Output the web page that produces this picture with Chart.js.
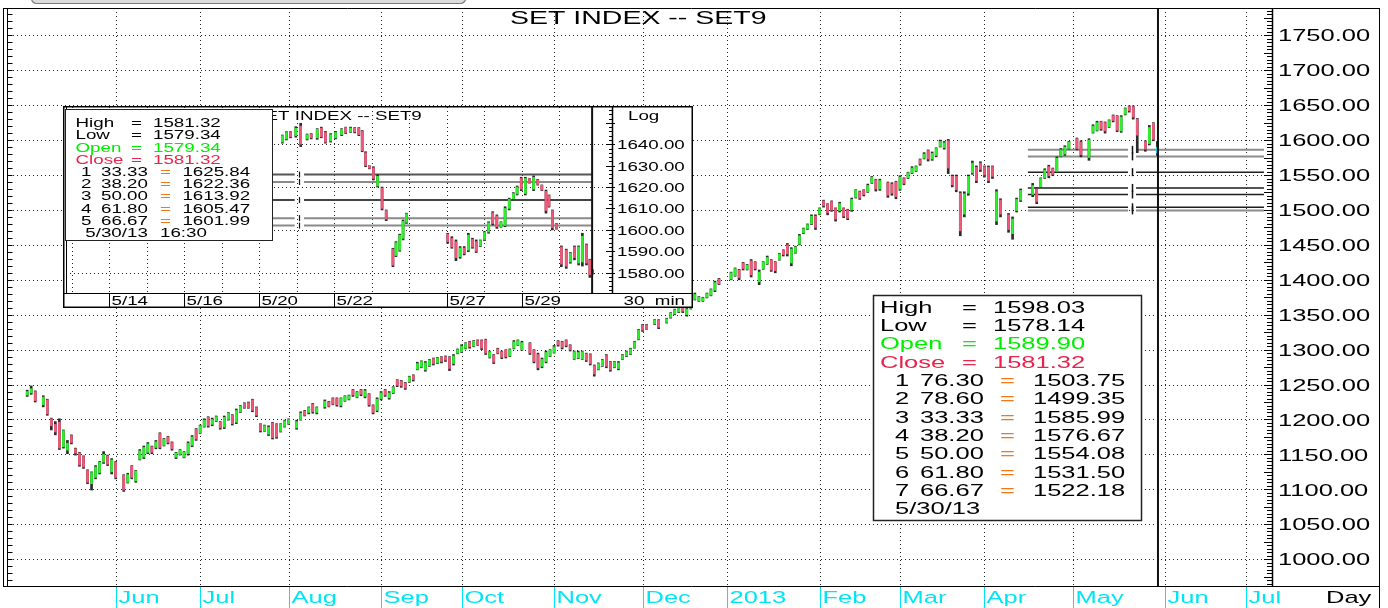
<!DOCTYPE html>
<html><head><meta charset="utf-8">
<script src="https://cdn.jsdelivr.net/npm/chart.js@4.4.1/dist/chart.umd.min.js"></script>
<style>
html,body{margin:0;padding:0;background:#fff;overflow:hidden;}
#wrap{position:relative;width:1388px;height:608px;overflow:hidden;background:#fff;}
#main{position:absolute;left:0;top:0;}
#inset{position:absolute;left:63px;top:106px;}
</style></head><body>
<div id="wrap"><canvas id="main" width="1388" height="608"></canvas><canvas id="inset" width="630" height="202"></canvas></div>
<script>
// ---------------- MAIN DAILY CHART DATA (weekday index from 2 May 2012) ----------------
const dayIdx = [0,1,2,4,5,6,7,8,9,10,11,12,13,14,15,16,17,18,19,20,21,22,
24,25,26,27,28,29,30,31,32,33,34,35,36,37,38,39,40,41,42,43,44,45,46,47,48,49,50,51,52,53,54,55,56,57,58,59,60,61,62,63,64,65,
67,68,69,70,71,72,
74,75,76,77,78,79,80,81,82,83,84,85,86,87,88,89,90,91,92,93,94,95,96,97,98,99,100,101,102,103,104,105,106,107,108,109,110,111,112,113,114,115,116,117,118,119,120,121,122,123,
125,126,127,128,129,130,131,132,133,134,135,136,137,138,139,140,141,142,143,144,145,146,147,148,149,150,151,152,153,154,
156,157,
159,160,161,162,163,164,165,166,167,168,169,170,171,172,
175,176,177,178,179,180,181,182,183,184,185,186,187,188,189,190,191,192,193,194,195,196,197,198,199,200,201,202,203,204,205,206,207,208,209,210,211,212,
214,215,216,217,218,219,220,221,222,223,224,225,226,227,228,229,230,231,232,233,234,235,236,237,238,239,240,241,242,
244,245,246,247,
250,251,252,253,254,255,256,257,258,259,
261,262,
264,265,266,267,268,269,270,271,272,273,274,275,276,
278,279,280,281];
const opens = [1235,1238,1240,1221,1228,1201,1193,1196,1161,1156,1177,1158,1152,1147,1127,1108,1117,1124,1139,1148,1125,1139,
1120,1110,1133,1112,1143,1146,1153,1161,1160,1180,1163,1175,1167,1146,1150,1146,1151,1163,1186,1181,1190,1203,1193,1198,1196,1189,1200,1206,1196,1211,1223,1224,1228,1217,1193,1184,1179,1195,1193,1183,1190,1194,
1188,1200,1212,1210,1222,1210,
1218,1225,1230,1230,1220,1227,1229,1242,1232,1242,1233,1236,1220,1213,1230,1242,1231,1238,1256,1255,1252,1254,1263,1272,1275,1271,1277,1287,1281,1289,1290,1289,1280,1295,1297,1302,1311,1305,1313,1313,1314,1289,1292,1301,1297,1299,1291,1302,1307,1300,
1309,1299,1293,1276,1283,1291,1296,1312,1311,1313,1306,1287,1288,1287,1294,1293,1277,1272,1277,1292,1282,1275,1273,1287,1291,1294,1303,1315,1335,1335,
1337,1342,
1339,1346,1351,1354,1360,1350,1359,1372,1370,1370,1375,1378,1385,1401,
1401,1406,1414,1424,1415,1427,1425,1397,1416,1423,1428,1425,1429,1442,1450,1424,1439,1451,1467,1473,1480,1491,1494,1513,1508,1512,1502,1499,1502,1500,1500,1518,1526,1528,1526,1539,1543,1530,
1539,1537,1540,1530,1545,1546,1553,1556,1572,1574,1585,1573,1578,1591,1589,1599,1548,1548,1524,1494,1524,1553,1561,1567,1562,1561,1562,1484,1514,
1493,1466,1499,1514,
1522,1530,1533,1546,1562,1559,1555,1577,1580,1588,
1602,1597,
1575,1611,1614,1626,1625,1619,1635,1634,1613,1637,1648,1648,1630,
1598,1595,1624,1589.90];
const highs = [1242,1248,1241,1234,1229,1202,1197,1201,1185,1170,1178,1159,1153,1148,1128,1125,1134,1140,1154,1149,1144,1140,
1121,1123,1134,1127,1157,1162,1167,1162,1170,1181,1173,1176,1168,1153,1157,1154,1168,1177,1187,1192,1201,1204,1202,1205,1197,1205,1210,1207,1215,1220,1224,1225,1229,1218,1194,1192,1191,1196,1194,1194,1199,1201,
1199,1211,1213,1218,1223,1218,
1228,1226,1231,1231,1231,1234,1235,1243,1240,1243,1243,1237,1221,1231,1240,1243,1240,1247,1257,1256,1253,1262,1264,1282,1284,1283,1286,1288,1289,1290,1291,1290,1293,1301,1307,1310,1312,1313,1314,1314,1315,1298,1293,1302,1298,1300,1301,1313,1314,1312,
1310,1300,1295,1288,1298,1300,1306,1313,1312,1314,1307,1298,1298,1298,1295,1294,1278,1281,1286,1293,1283,1283,1283,1293,1298,1302,1312,1329,1336,1336,
1343,1343,
1345,1353,1358,1360,1361,1360,1368,1381,1376,1375,1381,1387,1398,1402,
1411,1417,1415,1425,1422,1429,1426,1414,1426,1434,1429,1426,1438,1443,1452,1446,1448,1465,1474,1480,1493,1493,1503,1514,1509,1513,1503,1511,1503,1501,1517,1529,1527,1529,1537,1548,1544,1544,
1540,1539,1541,1549,1546,1554,1562,1563,1573,1582,1586,1583,1589,1600,1598,1601,1550,1550,1526,1526,1550,1570,1563,1569,1563,1563,1563,1529,1516,
1495,1490,1517,1530,
1538,1532,1546,1559,1564,1560,1576,1588,1592,1598,
1603,1599,
1602,1622,1627,1627,1626,1629,1636,1635,1635,1646,1649,1649,1631,
1599,1621,1625,1598.03];
const lows = [1233,1236,1225,1218,1206,1185,1178,1157,1159,1151,1165,1149,1133,1130,1108,1099,1115,1122,1137,1134,1122,1115,
1097,1109,1115,1110,1142,1144,1151,1151,1158,1158,1162,1165,1156,1144,1149,1145,1149,1161,1170,1180,1189,1189,1191,1197,1186,1187,1199,1192,1194,1210,1216,1216,1211,1204,1182,1183,1177,1172,1173,1182,1189,1193,
1186,1199,1205,1208,1209,1208,
1216,1218,1221,1219,1218,1226,1228,1233,1231,1234,1231,1219,1208,1211,1228,1233,1229,1237,1247,1246,1243,1253,1255,1271,1274,1269,1276,1278,1280,1281,1283,1270,1278,1294,1296,1301,1302,1304,1306,1300,1293,1288,1280,1294,1287,1288,1290,1301,1306,1299,
1293,1281,1271,1274,1281,1290,1295,1305,1301,1304,1298,1286,1287,1286,1283,1278,1262,1271,1276,1274,1269,1274,1271,1286,1290,1293,1302,1314,1326,1329,
1336,1330,
1338,1345,1350,1353,1353,1348,1358,1371,1369,1369,1374,1377,1383,1393,
1400,1405,1400,1414,1414,1404,1414,1393,1415,1422,1412,1410,1428,1434,1434,1420,1438,1450,1466,1472,1479,1472,1493,1504,1493,1498,1484,1497,1489,1486,1498,1517,1515,1520,1525,1538,1527,1528,
1518,1521,1516,1528,1536,1545,1552,1555,1564,1573,1570,1571,1576,1590,1587,1552,1533,1526,1463,1490,1521,1551,1539,1555,1547,1539,1545,1479,1490,
1468,1458,1497,1512,
1519,1509,1532,1545,1546,1549,1554,1576,1578,1587,
1586,1576,
1571,1610,1613,1614,1610,1618,1626,1612,1611,1636,1640,1630,1582,
1584,1593,1599,1578.14];
const closes = [1240,1244,1227,1232,1208,1191,1182,1159,1184,1166,1167,1152,1135,1132,1110,1124,1132,1139,1150,1136,1142,1117,
1099,1121,1117,1126,1155,1160,1165,1153,1168,1160,1172,1167,1158,1152,1156,1153,1166,1175,1172,1191,1199,1191,1200,1204,1188,1203,1209,1194,1213,1219,1217,1217,1213,1206,1184,1191,1189,1174,1175,1193,1198,1200,
1197,1209,1206,1217,1211,1217,
1226,1219,1222,1221,1230,1233,1234,1235,1239,1236,1241,1221,1210,1229,1238,1235,1238,1246,1249,1248,1245,1261,1257,1280,1283,1281,1285,1280,1288,1283,1285,1273,1291,1300,1305,1309,1304,1312,1307,1302,1295,1297,1282,1295,1289,1290,1300,1311,1313,1310,
1295,1283,1274,1286,1296,1299,1304,1307,1303,1306,1300,1297,1296,1297,1285,1280,1265,1280,1285,1276,1271,1282,1281,1292,1297,1301,1311,1328,1328,1330,
1342,1332,
1344,1352,1357,1359,1355,1358,1367,1379,1375,1374,1380,1386,1396,1394,
1410,1416,1403,1416,1421,1407,1416,1411,1425,1432,1414,1413,1437,1436,1437,1444,1447,1463,1473,1479,1491,1475,1502,1506,1496,1500,1487,1509,1491,1488,1515,1528,1517,1522,1535,1547,1530,1542,
1521,1524,1519,1547,1538,1553,1560,1562,1566,1580,1573,1581,1588,1598,1596,1560,1536,1529,1470,1523,1548,1567,1542,1558,1550,1542,1548,1526,1494,
1472,1487,1515,1528,
1535,1512,1545,1557,1549,1551,1574,1586,1590,1597,
1588,1579,
1600,1620,1625,1616,1613,1628,1628,1614,1633,1645,1642,1633,1607,
1587,1618,1601,1581.32];

const priceTicks = [1000,1050,1100,1150,1200,1250,1300,1350,1400,1450,1500,1550,1600,1650,1700,1750];
const monthLabels = ['Jun','Jul','Aug','Sep','Oct','Nov','Dec','2013','Feb','Mar','Apr','May','Jun','Jul'];
const monthStartIdx = [22,43,65,88,108,131,153,174,197,217,238,260,283,303];

const fibPct    = ['76.30','78.60','33.33','38.20','50.00','61.80','66.67'];
const fibLevels = [1503.75,1499.35,1585.99,1576.67,1554.08,1531.50,1522.18];
const fibColors = ['#1e1e1e','#8c8c8c','#8c8c8c','#8c8c8c','#1e1e1e','#1e1e1e','#1e1e1e'];
const fibSpanIdx = [248.8, 273.7, 275.7, 307.5];
const fibMarkIdx = 274.6;
const cursorIdx = 281.15;
const infoDate = '5/30/13';

// ---------------- INSET 30-MIN CHART DATA (trading-day position from 5/14) ----------------
const insetT = [4.62,4.73,4.84,4.98,5.11,5.28,5.39,5.55,5.66,5.77,5.91,6.04,6.20,6.31,6.44,6.55,6.66,6.75,6.84,6.94,7.05,7.16,7.28,7.39,7.57,7.65,7.75,7.84,7.93,
9.03,9.14,9.25,9.36,9.47,9.58,9.69,9.79,9.90,10.01,10.12,10.23,10.34,10.45,10.56,10.67,10.78,10.88,10.99,11.10,11.21,11.32,11.43,11.54,11.65,11.73,11.82,11.93,12.06,12.19,12.30,12.41,12.52,12.62,12.73,12.82,12.89];
const insetO = [1641,1642.5,1645.5,1644,1648.5,1642.5,1644.8,1643,1647.5,1645.5,1641.5,1643,1644.5,1647.8,1645.8,1647.5,1647.5,1646,1636,1629.8,1629,1620.5,1619.5,1609,1591,1588,1590.5,1596,1603.5,
1598,1596,1594.5,1587.5,1591.5,1590.5,1595.5,1594.5,1592.5,1595.5,1599,1608,1606.5,1601.5,1602,1610,1614.5,1616.8,1624,1617,1624,1619,1623.3,1620.8,1618,1616,1609,1602.8,1592,1590.5,1585,1592,1584.5,1585,1593,1586,1579.34];
const insetH = [1644.3,1645.9,1645.9,1648.2,1649.8,1644.8,1645,1647.3,1648,1646,1645,1646,1647.3,1648,1648,1647.8,1647.8,1646.4,1636.5,1630,1629.5,1625.7,1620,1609.3,1591.4,1594.5,1598,1604.6,1607.8,
1598.4,1596.8,1595.3,1592.2,1592.2,1598.4,1596.1,1595.3,1595.3,1599.2,1603.8,1608.5,1607,1603.8,1610.8,1614.8,1617.4,1620.5,1624.6,1624.6,1624.1,1625.2,1623.6,1621,1618.6,1616.3,1609.3,1603,1592.5,1591,1589.4,1592.5,1592.5,1598.4,1593.4,1586.3,1581.32];
const insetL = [1640.5,1642,1643,1643.3,1638.9,1642,1642.5,1642.3,1643,1640.5,1641,1642.5,1644,1645,1645.5,1645.3,1644,1636.5,1629.5,1628.5,1623.3,1620,1609.3,1604.3,1582.8,1587.5,1590,1595.3,1603,
1593.7,1591.4,1585.6,1586.7,1588.3,1589.8,1591.4,1589.4,1592.2,1595,1598.4,1602.3,1600.7,1601.2,1601.5,1609.3,1614,1616.3,1618.3,1616.3,1621.8,1618.3,1620.9,1618.3,1607.8,1610.6,1600,1600.3,1582.8,1582,1584.4,1586,1583.6,1583.1,1583.6,1577.8,1579.34];
const insetC = [1644,1645.5,1643.5,1647.5,1640,1644.5,1643,1647,1643.5,1641,1644.5,1645.5,1647,1645.5,1647.5,1645.8,1644.5,1637,1630,1628.8,1624,1625,1610,1605,1583.5,1594,1597.5,1604,1607.5,
1594.5,1592,1587,1591.5,1589,1597.5,1592,1590,1595,1598.8,1603.3,1603,1601.5,1603.5,1610,1614.3,1617,1620,1619,1624,1622,1624.5,1621.2,1618.6,1609,1611,1601,1600.6,1584,1583,1589,1587,1592,1597,1584.5,1579,1581.32];
const insetPriceTicks = [1580,1590,1600,1610,1620,1630,1640];
const insetGridTicks = [1580,1600,1620,1640];
const insetDayLabels = ['5/14','5/16','5/20','5/22','5/27','5/29'];
const insetDayPos = [0,2,4,6,9,11];
const insetDayGrid = [-1,0,1,2,3,4,5,6,7,8,9,10,11,12];
const insetFibPct    = ['33.33','38.20','50.00','61.80','66.67'];
const insetFibLevels = [1625.84,1622.36,1613.92,1605.47,1601.99];
const insetFibColors = ['#555555','#8a8a8a','#444444','#8a8a8a','#8a8a8a'];
const insetFibSpan = [-1.3, 4.95, 5.2, 12.9];
const insetFibMark = 5.06;
const insetCursor = 12.88;
const insetTime = '16:30';

// ---------------- STYLE ----------------
const FONT = '"Liberation Sans", Arial, Helvetica, sans-serif';
const STRETCH = 1.5;
const TEXT_DY = 1.5;
const GREEN = '#2cf02c', RED = '#f0587a', CYAN = '#10d8e8', WICK = '#2b2b2b', MAGENTA = '#ff00ff';
const TXT_GREEN = '#00ee00', TXT_RED = '#e8244c', TXT_ORANGE = '#f07818', MONTH_CYAN = '#00e4f4';

function sText(ctx, txt, x, y, size, color, align, stretch) {
  stretch = stretch || STRETCH;
  ctx.save();
  ctx.font = size + 'px ' + FONT;
  ctx.fillStyle = color;
  ctx.textBaseline = 'middle';
  ctx.textAlign = 'left';
  const w = ctx.measureText(txt).width * stretch;
  let x0 = x;
  if (align === 'right') x0 = x - w; else if (align === 'center') x0 = x - w / 2;
  ctx.translate(x0, y + TEXT_DY);
  ctx.scale(stretch, 1);
  ctx.fillText(txt, 0, 0);
  ctx.restore();
}
function line(ctx, x1, y1, x2, y2, color, w, dash) {
  ctx.save();
  ctx.strokeStyle = color; ctx.lineWidth = w || 1;
  ctx.setLineDash(dash || []);
  ctx.beginPath(); ctx.moveTo(x1, y1); ctx.lineTo(x2, y2); ctx.stroke();
  ctx.restore();
}

// ---------------- MAIN CHART ----------------
const n = Math.min(dayIdx.length, opens.length, highs.length, lows.length, closes.length);
const wickData = [], bodyData = [], bodyColors = [];
for (let i = 0; i < n; i++) {
  wickData.push({x: dayIdx[i], y: [lows[i], highs[i]]});
  bodyData.push({x: dayIdx[i], y: [opens[i], closes[i]]});
  bodyColors.push(i === n - 1 ? CYAN : (closes[i] >= opens[i] ? GREEN : RED));
}
const fibDatasets = fibLevels.map((v, k) => ({
  type: 'line',
  data: [{x: fibSpanIdx[0], y: v}, {x: fibSpanIdx[1], y: v}, {x: fibMarkIdx, y: null}, {x: fibSpanIdx[2], y: v}, {x: fibSpanIdx[3], y: v}],
  borderColor: fibColors[k],
  borderWidth: fibColors[k] === '#8c8c8c' ? 2 : 1.5,
  pointRadius: 0, spanGaps: false, tension: 0, order: 5
}));

const mainDecor = {
  id: 'mainDecor',
  beforeDraw(chart) {
    const c = chart.ctx; c.save(); c.fillStyle = '#fff'; c.fillRect(0, 0, chart.width, chart.height); c.restore();
  },
  beforeDatasetsDraw(chart) {
    const {ctx, chartArea: a, scales: {x, y}} = chart;
    priceTicks.forEach(v => {
      const py = Math.round(y.getPixelForValue(v)) + 0.5;
      line(ctx, a.left, py, a.right, py, '#222', 1, [1, 3]);
    });
    monthStartIdx.forEach(i => {
      const px = Math.round(x.getPixelForValue(i)) + 0.5;
      line(ctx, px, a.top, px, a.bottom, '#222', 1, [1, 3]);
    });
  },
  afterDatasetsDraw(chart) {
    const {ctx, chartArea: a, scales: {x, y}} = chart;
    const mx = Math.round(x.getPixelForValue(fibMarkIdx)) + 0.5;
    fibLevels.forEach(v => {
      const py = y.getPixelForValue(v);
      line(ctx, mx, py - 4, mx, py + 4, '#111', 1.5);
    });
    const cx = x.getPixelForValue(cursorIdx);
    line(ctx, cx, a.top, cx, a.bottom, '#111', 2);
    // frame
    line(ctx, 3.5, a.top, 3.5, a.bottom, '#000', 1);
    line(ctx, 7.5, a.top, 7.5, a.bottom, '#000', 1);
    line(ctx, 3, a.top + 0.5, 1380, a.top + 0.5, '#000', 1);
    line(ctx, 3, a.bottom + 0.5, 1380, a.bottom + 0.5, '#000', 1);
    line(ctx, a.right + 0.5, a.top, a.right + 0.5, a.bottom, '#000', 1.5);
    line(ctx, 1379.5, a.top, 1379.5, chart.height, '#000', 1);
    for (let v = Math.ceil(y.min / 5) * 5; v <= y.max; v += 5) {
      const py = Math.round(y.getPixelForValue(v)) + 0.5;
      line(ctx, a.right - (v % 25 === 0 ? 8 : 5), py, a.right, py, '#000', 1);
      if (v % 10 === 0) line(ctx, 7.5, py, 12.5, py, '#000', 1);
    }
    priceTicks.forEach(v => {
      sText(ctx, v.toFixed(2), a.right + 6, y.getPixelForValue(v), 17, '#000', 'left');
    });
    monthStartIdx.forEach((i, k) => {
      const px = Math.round(x.getPixelForValue(i)) + 0.5;
      line(ctx, px, a.bottom + 1, px, chart.height, MONTH_CYAN, 1);
      sText(ctx, monthLabels[k], px + 2, a.bottom + 11, 17, MONTH_CYAN, 'left');
    });
    sText(ctx, 'Day', 1326, a.bottom + 11, 17, '#000', 'left');
    sText(ctx, 'SET INDEX -- SET9', 510, 17, 19, '#000', 'left');
    ctx.save();
    ctx.fillStyle = '#dcdcdc'; ctx.strokeStyle = '#7a7a7a'; ctx.lineWidth = 1.2;
    ctx.beginPath(); ctx.roundRect(31.5, -10, 434, 13.5, 5); ctx.fill(); ctx.stroke();
    ctx.restore();
    // info box
    const bx = 873.5, by = 295.5, bw = 268, bh = 225;
    ctx.save(); ctx.fillStyle = '#fff'; ctx.fillRect(bx, by, bw, bh);
    ctx.strokeStyle = '#222'; ctx.lineWidth = 1.5; ctx.strokeRect(bx, by, bw, bh); ctx.restore();
    const last = n - 1;
    const rowY = k => 306.7 + 18.3 * k;
    const heads = [['High', highs[last], '#000'], ['Low', lows[last], '#000'], ['Open', opens[last], TXT_GREEN], ['Close', closes[last], TXT_RED]];
    heads.forEach((h, k) => {
      sText(ctx, h[0], 880, rowY(k), 17, h[2]);
      sText(ctx, '=', 962, rowY(k), 17, h[2]);
      sText(ctx, h[1].toFixed(2), 993, rowY(k), 17, h[2]);
    });
    fibPct.forEach((p, k) => {
      const yy = rowY(4 + k);
      sText(ctx, String(k + 1), 895, yy, 17, '#000');
      sText(ctx, p, 920, yy, 17, '#000');
      sText(ctx, '=', 1000, yy, 17, TXT_ORANGE);
      sText(ctx, fibLevels[k].toFixed(2), 1033, yy, 17, '#000');
    });
    sText(ctx, infoDate, 895, rowY(11), 17, '#000');
  }
};

new Chart(document.getElementById('main'), {
  type: 'bar',
  data: {
    datasets: [
      ...fibDatasets,
      {type: 'bar', data: wickData, backgroundColor: WICK, barThickness: 2, grouped: false, order: 3},
      {type: 'bar', data: bodyData, backgroundColor: bodyColors, barThickness: 2, grouped: false, order: 2}
    ]
  },
  options: {
    responsive: false, animation: false, events: [],
    layout: {padding: {left: 13, top: 8, right: 0, bottom: 0}},
    plugins: {legend: {display: false}, tooltip: {enabled: false}, title: {display: false}},
    scales: {
      x: {type: 'linear', position: 'bottom', min: -3.53, max: 309.5, offset: false,
          grid: {display: false}, border: {display: false}, ticks: {display: false},
          afterFit: s => { s.height = 22; }},
      y: {type: 'linear', position: 'right', min: 961.6, max: 1789.1,
          grid: {display: false}, border: {display: false}, ticks: {display: false},
          afterBuildTicks: s => { s.ticks = priceTicks.map(v => ({value: v})); },
          afterFit: s => { s.width = 116; }}
    }
  },
  plugins: [mainDecor]
});

// ---------------- INSET CHART ----------------
const m = Math.min(insetT.length, insetO.length, insetH.length, insetL.length, insetC.length);
const iWick = [], iBody = [], iColors = [];
for (let i = 0; i < m; i++) {
  iWick.push({x: insetT[i], y: [insetL[i], insetH[i]]});
  iBody.push({x: insetT[i], y: [insetO[i], insetC[i]]});
  iColors.push(i === m - 1 ? MAGENTA : (insetC[i] >= insetO[i] ? GREEN : RED));
}
const insetFibDs = insetFibLevels.map((v, k) => ({
  type: 'line',
  data: [{x: insetFibSpan[0], y: v}, {x: insetFibSpan[1], y: v}, {x: insetFibMark, y: null}, {x: insetFibSpan[2], y: v}, {x: insetFibSpan[3], y: v}],
  borderColor: insetFibColors[k], borderWidth: 2, pointRadius: 0, spanGaps: false, order: 5
}));

const insetDecor = {
  id: 'insetDecor',
  beforeDraw(chart) {
    const c = chart.ctx; c.save(); c.fillStyle = '#fff'; c.fillRect(0, 0, chart.width, chart.height); c.restore();
  },
  beforeDatasetsDraw(chart) {
    const {ctx, chartArea: a, scales: {x, y}} = chart;
    insetGridTicks.forEach(v => {
      const py = Math.round(y.getPixelForValue(v)) + 0.5;
      line(ctx, a.left, py, a.right, py, '#222', 1, [1, 3]);
    });
    insetDayGrid.forEach(d => {
      const px = Math.round(x.getPixelForValue(d)) + 0.5;
      if (px > a.left && px < a.right) line(ctx, px, a.top, px, a.bottom, '#222', 1, [1, 3]);
    });
    sText(ctx, 'SET INDEX -- SET9', 190, 9, 12.5, '#000');
  },
  afterDatasetsDraw(chart) {
    const {ctx, chartArea: a, scales: {x, y}} = chart;
    const mx = Math.round(x.getPixelForValue(insetFibMark)) + 0.5;
    insetFibLevels.forEach(v => {
      const py = y.getPixelForValue(v);
      line(ctx, mx, py - 3, mx, py + 3, '#111', 1.2);
    });
    const cx = x.getPixelForValue(insetCursor);
    line(ctx, cx, a.top, cx, a.bottom, '#111', 2);
    ctx.save(); ctx.strokeStyle = '#000'; ctx.lineWidth = 1.5; ctx.strokeRect(0.75, 0.75, chart.width - 1.5, chart.height - 1.5); ctx.restore();
    line(ctx, a.left + 0.5, a.top, a.left + 0.5, a.bottom, '#000', 1);
    line(ctx, 0, a.bottom + 0.5, chart.width, a.bottom + 0.5, '#000', 1.2);
    line(ctx, a.right + 0.5, 0, a.right + 0.5, a.bottom, '#000', 1.5);
    for (let v = Math.ceil(y.min / 2) * 2; v <= y.max; v += 2) {
      const py = Math.round(y.getPixelForValue(v)) + 0.5;
      line(ctx, a.right - (v % 10 === 0 ? 6 : 3), py, a.right, py, '#000', 1);
      if (v % 10 === 0) line(ctx, a.right, py, a.right + 3, py, '#000', 1);
    }
    insetPriceTicks.forEach(v => sText(ctx, v.toFixed(2), a.right + 5, y.getPixelForValue(v), 12.5, '#000'));
    sText(ctx, 'Log', 565, 9, 12.5, '#000');
    insetDayPos.forEach((d, k) => {
      const px = Math.round(x.getPixelForValue(d)) + 0.5;
      line(ctx, px, a.bottom, px, chart.height, '#000', 1);
      sText(ctx, insetDayLabels[k], px + 2, a.bottom + 7, 12.5, '#000');
    });
    sText(ctx, '30  min', 622, a.bottom + 7, 12.5, '#000', 'right');
    ctx.save(); ctx.fillStyle = '#fff'; ctx.fillRect(2.5, 3.5, 207, 131);
    ctx.strokeStyle = '#222'; ctx.lineWidth = 1; ctx.strokeRect(2.5, 3.5, 207, 131); ctx.restore();
    const last = m - 1;
    const rowY = k => 16.2 + 12.2 * k;
    const heads = [['High', insetH[last], '#000'], ['Low', insetL[last], '#000'], ['Open', insetO[last], TXT_GREEN], ['Close', insetC[last], TXT_RED]];
    heads.forEach((h, k) => {
      sText(ctx, h[0], 12.5, rowY(k), 12.5, h[2]);
      sText(ctx, '=', 68, rowY(k), 12.5, h[2]);
      sText(ctx, h[1].toFixed(2), 90, rowY(k), 12.5, h[2]);
    });
    insetFibPct.forEach((p, k) => {
      const yy = rowY(4 + k);
      sText(ctx, String(k + 1), 18, yy, 12.5, '#000');
      sText(ctx, p, 38, yy, 12.5, '#000');
      sText(ctx, '=', 97, yy, 12.5, TXT_ORANGE);
      sText(ctx, insetFibLevels[k].toFixed(2), 119.4, yy, 12.5, '#000');
    });
    sText(ctx, infoDate, 22.3, rowY(9), 12.5, '#000');
    sText(ctx, insetTime, 97, rowY(9), 12.5, '#000');
  }
};

new Chart(document.getElementById('inset'), {
  type: 'bar',
  data: {
    datasets: [
      ...insetFibDs,
      {type: 'bar', data: iWick, backgroundColor: WICK, barThickness: 2, grouped: false, order: 3},
      {type: 'bar', data: iBody, backgroundColor: iColors, barThickness: 2, grouped: false, order: 2}
    ]
  },
  options: {
    responsive: false, animation: false, events: [],
    layout: {padding: {left: 3, top: 1, right: 0, bottom: 0}},
    plugins: {legend: {display: false}, tooltip: {enabled: false}},
    scales: {
      x: {type: 'linear', min: -1.147, max: 13.41, offset: false,
          grid: {display: false}, border: {display: false}, ticks: {display: false},
          afterFit: s => { s.height = 15; }},
      y: {type: 'linear', position: 'right', min: 1570.5, max: 1657.4,
          grid: {display: false}, border: {display: false}, ticks: {display: false},
          afterBuildTicks: s => { s.ticks = insetPriceTicks.map(v => ({value: v})); },
          afterFit: s => { s.width = 81; }}
    }
  },
  plugins: [insetDecor]
});
</script>
</body></html>
